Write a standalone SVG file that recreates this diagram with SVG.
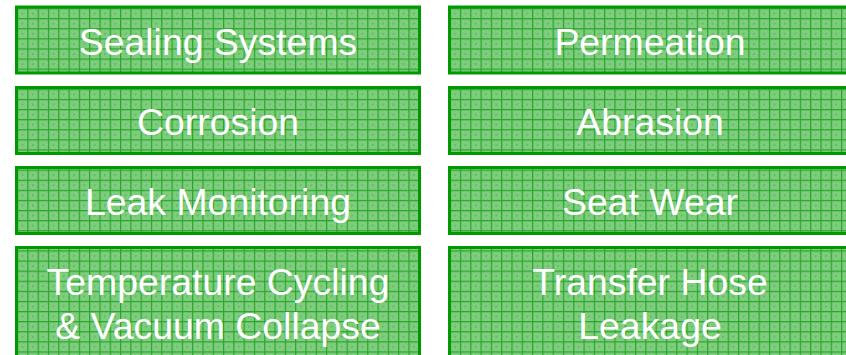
<svg xmlns="http://www.w3.org/2000/svg" width="846" height="355" viewBox="0 0 846 355">
<style>
.box{fill:url(#grid);stroke:#009900;stroke-width:3}
.lbl{font-family:"Liberation Sans",Arial,sans-serif;font-size:37.4px;fill:#ffffff;text-anchor:middle}
</style>
<defs>
<pattern id="checker" patternUnits="userSpaceOnUse" width="4" height="4">
<rect width="4" height="4" fill="#76c976"/>
<rect width="2" height="2" fill="#86d186"/>
<rect x="2" y="2" width="2" height="2" fill="#86d186"/>
</pattern>
<pattern id="grid" patternUnits="userSpaceOnUse" x="17" y="8" width="10.3" height="10.1">
<rect width="10.3" height="10.1" fill="url(#checker)"/>
<rect x="0" y="0" width="10.3" height="1.2" fill="#2aa52a"/>
<rect x="0" y="0" width="1.2" height="10.1" fill="#2aa52a"/>
<rect x="5" y="5" width="1" height="1" fill="#2a952a"/>
</pattern>
</defs>
<g id="node-sealing"><rect class="box" x="16.5" y="7" width="403" height="66"/><text class="lbl" x="218" y="55">Sealing Systems</text></g>
<g id="node-permeation"><rect class="box" x="449.5" y="7" width="403" height="66"/><text class="lbl" x="650" y="55">Permeation</text></g>
<g id="node-corrosion"><rect class="box" x="16.5" y="87.5" width="403" height="66"/><text class="lbl" x="218" y="135">Corrosion</text></g>
<g id="node-abrasion"><rect class="box" x="449.5" y="87.5" width="403" height="66"/><text class="lbl" x="650" y="135">Abrasion</text></g>
<g id="node-leak"><rect class="box" x="16.5" y="167.5" width="403" height="66"/><text class="lbl" x="218" y="215">Leak Monitoring</text></g>
<g id="node-seatwear"><rect class="box" x="449.5" y="167.5" width="403" height="66"/><text class="lbl" x="650" y="215">Seat Wear</text></g>
<g id="node-temperature"><rect class="box" x="16.5" y="247.5" width="403" height="120"/><text class="lbl" x="218" y="295">Temperature Cycling</text><text class="lbl" x="218" y="339">&amp; Vacuum Collapse</text></g>
<g id="node-transfer"><rect class="box" x="449.5" y="247.5" width="403" height="120"/><text class="lbl" x="650" y="295">Transfer Hose</text><text class="lbl" x="650" y="339">Leakage</text></g>
<g id="connectors"></g>
</svg>
